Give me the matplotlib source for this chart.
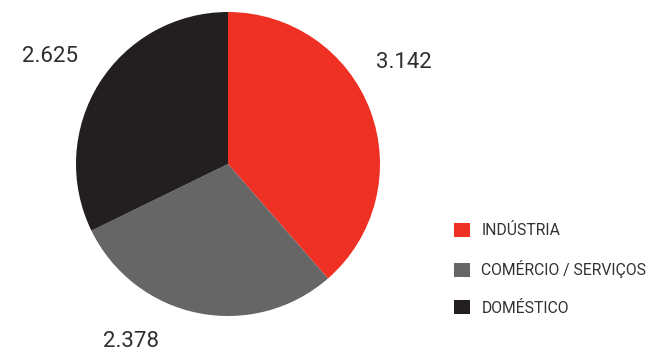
import matplotlib
matplotlib.use("Agg")
import matplotlib.pyplot as plt
from matplotlib.patches import Patch

categories = ["INDÚSTRIA", "COMÉRCIO / SERVIÇOS", "DOMÉSTICO"]
values = [3.142, 2.378, 2.625]
value_labels = ["3.142", "2.378", "2.625"]
colors = ["#EE3124", "#666666", "#231F20"]
label_pos = [(1.16, 0.665), (-0.64, -1.165), (-1.17, 0.71)]

W, H = 652, 356
fig = plt.figure(figsize=(W/100, H/100), dpi=100)
cx, cy, r = 228, 164, 152
ax = fig.add_axes([(cx - r)/W, (H - cy - r)/H, 2*r/W, 2*r/H])
ax.pie(values, colors=colors, startangle=90, counterclock=False, radius=1,
       wedgeprops=dict(linewidth=0))
ax.set_xlim(-1, 1)
ax.set_ylim(-1, 1)
ax.set_aspect("equal")
ax.axis("off")

for (x, y), t in zip(label_pos, value_labels):
    ax.text(x, y, t, ha="center", va="center", fontsize=16, color="#2e2e2e",
            family="Roboto", fontweight="normal", clip_on=False)

handles = [Patch(facecolor=c, edgecolor="none") for c in colors]
leg = fig.legend(handles, categories, loc="upper left",
                 bbox_to_anchor=(454/W, 1 - 223/H), frameon=False,
                 prop=dict(family="Roboto", size=11.3),
                 handlelength=1.0, handleheight=1.0, handletextpad=0.75,
                 labelspacing=1.4, borderpad=0, borderaxespad=0)
for t in leg.get_texts():
    t.set_color("#333333")

fig.savefig("out.png", dpi=100)
